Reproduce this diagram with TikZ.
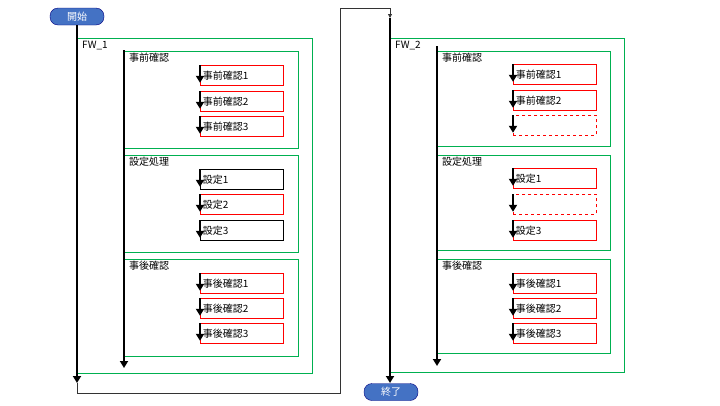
\documentclass[tikz,border=0pt]{standalone}
\usepackage{fontspec}
\setmainfont{Noto Sans CJK JP}
\usetikzlibrary{arrows.meta}
\begin{document}
\begin{tikzpicture}[x=1pt,y=-1pt,
  font=\fontsize{10}{12}\selectfont,
  pill/.style={draw=blue!50!black,fill={rgb,255:red,68;green,114;blue,196},text=white,rounded corners=8pt,minimum width=54pt,minimum height=17pt,inner sep=0pt},
  grp/.style={draw={rgb,255:red,0;green,176;blue,80},line width=0.8pt},
  flow/.style={line width=2.4pt,-{Triangle[width=8pt,length=7pt]}},
  conn/.style={draw=black!80,line width=0.8pt},
  item/.style={draw=red,line width=0.8pt,anchor=north west,minimum width=83pt,minimum height=20pt,inner sep=2pt,text width=78pt,align=left},
  itemb/.style={item,draw=black},
  itemd/.style={item,dashed},
  lbl/.style={anchor=north west,inner sep=1pt}]
\useasboundingbox (0,0) rectangle (720,405);
\node[pill] (start) at (77,16.5) {開始};
\node[pill] (end) at (391,392) {終了};
% FW_1
\draw[grp] (77,38) rectangle (312,373);
\node[lbl] (fw1) at (81,40) {FW\_1};
\draw[grp] (124,51) rectangle (298,148);
\draw[grp] (124,155) rectangle (298,252);
\draw[grp] (124,259) rectangle (298,356);
\node[lbl] (g11) at (128,52) {事前確認};
\node[lbl] (g12) at (128,156) {設定処理};
\node[lbl] (g13) at (128,260) {事後確認};
\coordinate (m1t) at (77,25);
\coordinate (m1b) at (77,383);
\draw[flow] (m1t) -- (m1b);
\coordinate (i1t) at (124,50);
\coordinate (i1b) at (124,368);
\draw[flow] (i1t) -- (i1b);
\node[item] (a1) at (200,65) {事前確認1};
\node[item] (a2) at (200,91) {事前確認2};
\node[item] (a3) at (200,116) {事前確認3};
\node[itemb] (b1) at (200,169) {設定1};
\node[item] (b2) at (200,194) {設定2};
\node[itemb] (b3) at (200,220) {設定3};
\node[item] (c1) at (200,273) {事後確認1};
\node[item] (c2) at (200,298) {事後確認2};
\node[item] (c3) at (200,323) {事後確認3};
\foreach \n in {a1,a2,a3,b1,b2,b3,c1,c2,c3}
  \draw[flow] (\n.north west) -- ([yshift=3pt]\n.south west);
% connector
\coordinate (k1) at (77,393);
\coordinate (k2) at (340,393);
\coordinate (k3) at (340,8);
\coordinate (k4) at (390,8);
\coordinate (m2t) at (390,18);
\draw[conn,-{Triangle[width=4pt,length=4pt]}] (m1b) -- (k1) -- (k2) -- (k3) -- (k4) -- (m2t);
% FW_2
\draw[grp] (390,38) rectangle (624,372);
\node[lbl] (fw2) at (394,40) {FW\_2};
\draw[grp] (437,51) rectangle (610,146);
\draw[grp] (437,155) rectangle (610,250);
\draw[grp] (437,259) rectangle (610,353);
\node[lbl] (g21) at (441,52) {事前確認};
\node[lbl] (g22) at (441,156) {設定処理};
\node[lbl] (g23) at (441,260) {事後確認};
\coordinate (m2b) at (390,383);
\draw[flow] (m2t) -- (m2b);
\coordinate (i2t) at (437,46);
\coordinate (i2b) at (437,366);
\draw[flow] (i2t) -- (i2b);
\node[item] (d1) at (513,64) {事前確認1};
\node[item] (d2) at (513,90) {事前確認2};
\node[itemd] (d3) at (513,115) {};
\node[item] (e1) at (513,168) {設定1};
\node[itemd] (e2) at (513,194) {};
\node[item] (e3) at (513,220) {設定3};
\node[item] (f1) at (513,273) {事後確認1};
\node[item] (f2) at (513,298) {事後確認2};
\node[item] (f3) at (513,323) {事後確認3};
\foreach \n in {d1,d2,d3,e1,e2,e3,f1,f2,f3}
  \draw[flow] (\n.north west) -- ([yshift=3pt]\n.south west);
\end{tikzpicture}
\end{document}
